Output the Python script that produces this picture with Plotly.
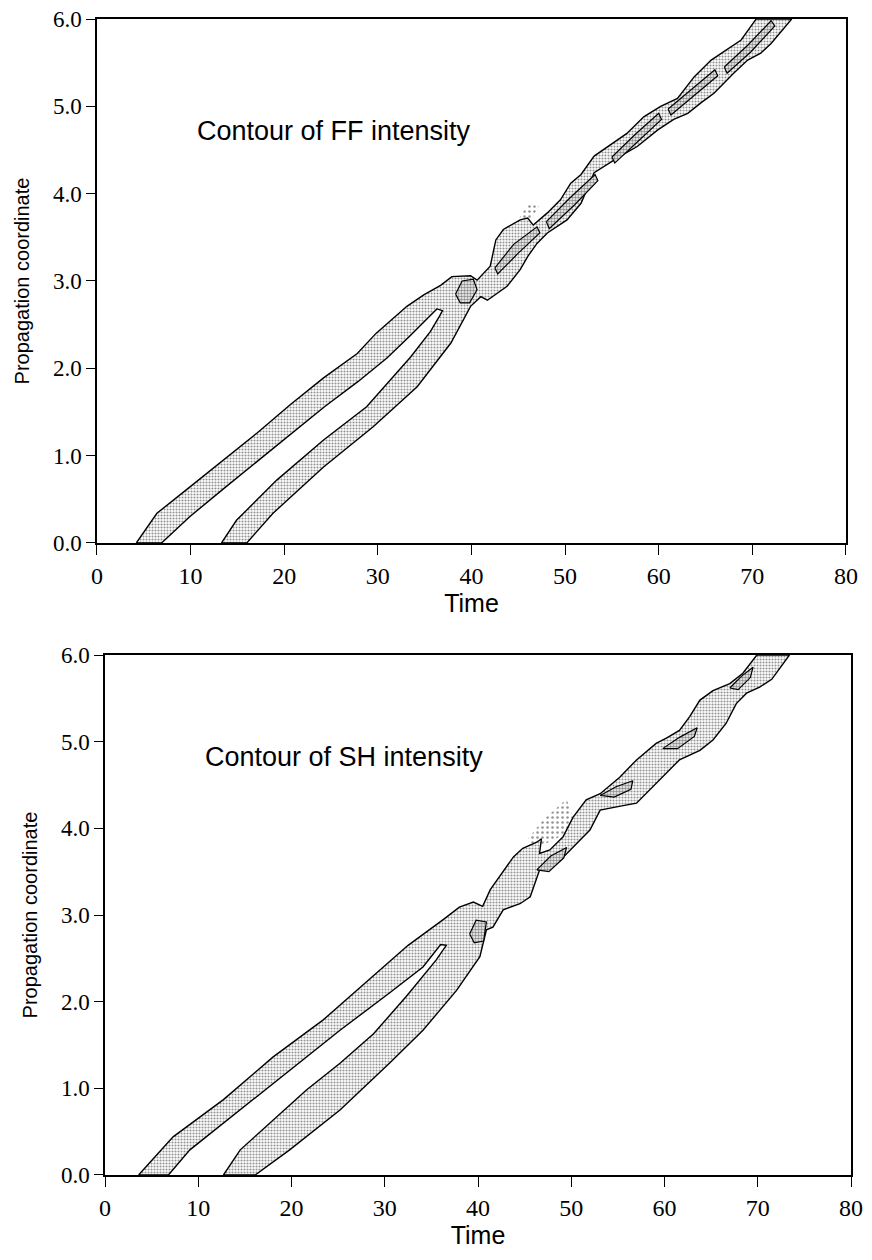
import plotly.graph_objects as go

# ---- FF intensity contour (top panel), edges as (time, z) ----
ff_left_outer_t = [4.2, 6.4, 9.9, 13.5, 17.1, 20.6, 24.2, 27.8, 29.8, 33.1, 34.9, 36.7, 37.9, 39.9]
ff_left_outer_z = [0.0, 0.34, 0.64, 0.95, 1.26, 1.58, 1.89, 2.17, 2.40, 2.71, 2.84, 2.95, 3.05, 3.06]
ff_merge_upper_t = [40.6, 42.0, 42.6, 43.4, 45.2, 46.0, 46.6, 48.1, 49.5, 50.6, 51.7, 53.1, 56.6, 58.4,
                    60.2, 62.0, 63.8, 65.6, 67.3, 68.8, 69.8, 70.4]
ff_merge_upper_z = [3.01, 3.17, 3.47, 3.59, 3.70, 3.72, 3.64, 3.78, 3.93, 4.12, 4.22, 4.43, 4.69, 4.88,
                    5.00, 5.09, 5.34, 5.53, 5.65, 5.76, 5.91, 6.0]
ff_merge_lower_t = [74.2, 73.0, 72.0, 70.9, 69.5, 68.0, 65.9, 64.5, 63.1, 61.6, 59.9, 57.7, 55.9, 53.1,
                    51.7, 50.2, 48.1, 47.0, 46.0, 45.2, 43.8, 41.7, 41.0]
ff_merge_lower_z = [6.0, 5.85, 5.72, 5.61, 5.53, 5.38, 5.15, 5.04, 4.92, 4.85, 4.73, 4.54, 4.43, 4.24,
                    3.89, 3.70, 3.55, 3.43, 3.28, 3.13, 2.94, 2.78, 2.82]
ff_right_outer_t = [39.9, 37.8, 34.2, 29.5, 24.2, 18.8, 16.0]
ff_right_outer_z = [2.71, 2.29, 1.79, 1.33, 0.87, 0.34, 0.0]
ff_right_inner_t = [13.3, 14.9, 19.2, 24.2, 28.8, 33.5, 35.6, 36.6, 36.9]
ff_right_inner_z = [0.0, 0.26, 0.72, 1.18, 1.56, 2.13, 2.42, 2.60, 2.66]
ff_left_inner_t = [36.3, 35.3, 33.5, 31.0, 27.9, 24.3, 20.7, 17.1, 13.5, 9.9, 6.9]
ff_left_inner_z = [2.68, 2.57, 2.38, 2.12, 1.85, 1.56, 1.25, 0.94, 0.62, 0.30, 0.0]

# higher-level contour loops inside the FF band
ff_inner_loops = [
    ([38.3, 39.0, 40.2, 40.6, 39.8, 38.8], [2.85, 3.00, 3.02, 2.90, 2.75, 2.75]),
    ([42.5, 44.5, 47.0, 47.3, 45.0, 42.8], [3.15, 3.42, 3.62, 3.55, 3.32, 3.08]),
    ([48.0, 50.5, 53.2, 53.5, 51.0, 48.3], [3.68, 3.95, 4.22, 4.15, 3.87, 3.60]),
    ([55.0, 57.5, 60.0, 60.3, 57.8, 55.3], [4.42, 4.68, 4.92, 4.85, 4.60, 4.35]),
    ([61.0, 63.5, 66.0, 66.3, 63.8, 61.3], [4.97, 5.20, 5.42, 5.35, 5.12, 4.90]),
    ([67.0, 69.5, 72.0, 72.4, 69.8, 67.3], [5.45, 5.70, 5.98, 5.92, 5.62, 5.38]),
]
ff_sparse_t = [44.8, 46.0, 47.2, 46.4, 45.0]
ff_sparse_z = [3.66, 3.88, 3.86, 3.70, 3.58]

# ---- SH intensity contour (bottom panel) ----
sh_left_outer_t = [3.6, 7.3, 12.7, 18.0, 23.4, 28.8, 32.5, 36.3, 38.0, 39.5]
sh_left_outer_z = [0.0, 0.44, 0.87, 1.36, 1.79, 2.30, 2.65, 2.95, 3.09, 3.15]
sh_merge_upper_t = [40.5, 41.3, 42.3, 43.8, 44.8, 46.3, 46.8, 46.6, 47.7, 49.1, 50.2, 51.6, 53.1, 55.2,
                    57.0, 59.1, 60.2, 61.6, 62.7, 63.8, 65.2, 67.0, 68.4, 69.5, 69.9]
sh_merge_upper_z = [3.10, 3.29, 3.44, 3.67, 3.77, 3.84, 3.88, 3.71, 3.75, 3.90, 4.13, 4.33, 4.40, 4.59,
                    4.79, 4.98, 5.04, 5.13, 5.29, 5.48, 5.59, 5.67, 5.79, 5.94, 6.0]
sh_merge_lower_t = [73.4, 72.5, 71.5, 70.2, 68.8, 67.7, 66.6, 65.2, 63.8, 61.6, 59.8, 58.4, 57.0, 55.0,
                    53.1, 52.0, 50.6, 48.8, 46.6, 45.6, 44.5, 42.7, 41.6]
sh_merge_lower_z = [6.0, 5.87, 5.72, 5.63, 5.56, 5.44, 5.21, 5.02, 4.90, 4.79, 4.59, 4.44, 4.29, 4.25,
                    4.21, 3.98, 3.83, 3.63, 3.52, 3.21, 3.13, 3.06, 2.86]
sh_right_outer_t = [40.9, 40.2, 37.7, 34.1, 30.5, 25.2, 19.8, 16.1]
sh_right_outer_z = [2.83, 2.52, 2.13, 1.67, 1.29, 0.75, 0.29, 0.0]
sh_right_inner_t = [12.7, 14.5, 18.0, 21.6, 25.2, 28.8, 32.3, 35.5, 36.6]
sh_right_inner_z = [0.0, 0.29, 0.63, 0.98, 1.29, 1.63, 2.06, 2.48, 2.65]
sh_left_inner_t = [36.0, 34.1, 30.5, 25.2, 19.8, 14.5, 9.1, 6.8]
sh_left_inner_z = [2.66, 2.40, 2.10, 1.67, 1.21, 0.75, 0.29, 0.0]

sh_inner_loops = [
    ([39.1, 39.8, 40.9, 40.6, 39.6], [2.78, 2.94, 2.92, 2.70, 2.68]),
    ([46.3, 47.8, 49.5, 49.2, 47.6], [3.52, 3.68, 3.78, 3.66, 3.50]),
    ([53.1, 54.8, 56.6, 56.4, 54.6], [4.38, 4.48, 4.55, 4.45, 4.36]),
    ([59.8, 61.6, 63.5, 63.2, 61.4], [4.92, 5.05, 5.16, 5.06, 4.92]),
    ([67.0, 68.3, 69.5, 69.2, 67.9], [5.62, 5.76, 5.86, 5.74, 5.60]),
]
sh_sparse_t = [45.2, 47.0, 49.5, 50.4, 48.2, 46.4]
sh_sparse_z = [3.86, 4.10, 4.34, 4.05, 3.86, 3.80]

x_ticks = [0, 10, 20, 30, 40, 50, 60, 70, 80]
y_ticks = [0.0, 1.0, 2.0, 3.0, 4.0, 5.0, 6.0]


def band(parts):
    t, z = [], []
    for pt, pz in parts:
        t += pt
        z += pz
    return t + t[:1], z + z[:1]


fig = go.Figure()


def add_panel(fig, outline, loops, sparse, xa, ya):
    fig.add_trace(go.Scatter(
        x=sparse[0] + sparse[0][:1], y=sparse[1] + sparse[1][:1], xaxis=xa, yaxis=ya,
        mode="lines", fill="toself", line=dict(width=0), fillcolor="rgba(0,0,0,0)",
        fillpattern=dict(shape=".", fgcolor="#222", bgcolor="white", size=5, solidity=0.2),
        hoverinfo="skip", showlegend=False))
    fig.add_trace(go.Scatter(
        x=outline[0], y=outline[1], xaxis=xa, yaxis=ya,
        mode="lines", fill="toself", line=dict(color="black", width=1.4),
        fillpattern=dict(shape=".", fgcolor="#222", bgcolor="white", size=3, solidity=0.38),
        hoverinfo="skip", showlegend=False))
    for lt, lz in loops:
        fig.add_trace(go.Scatter(
            x=lt + lt[:1], y=lz + lz[:1], xaxis=xa, yaxis=ya,
            mode="lines", fill="toself", line=dict(color="black", width=1.2),
            fillpattern=dict(shape=".", fgcolor="#111", bgcolor="white", size=3, solidity=0.55),
            hoverinfo="skip", showlegend=False))


ff_outline = band([(ff_left_outer_t, ff_left_outer_z), (ff_merge_upper_t, ff_merge_upper_z),
                   (ff_merge_lower_t, ff_merge_lower_z), (ff_right_outer_t, ff_right_outer_z),
                   (ff_right_inner_t, ff_right_inner_z), (ff_left_inner_t, ff_left_inner_z)])
sh_outline = band([(sh_left_outer_t, sh_left_outer_z), (sh_merge_upper_t, sh_merge_upper_z),
                   (sh_merge_lower_t, sh_merge_lower_z), (sh_right_outer_t, sh_right_outer_z),
                   (sh_right_inner_t, sh_right_inner_z), (sh_left_inner_t, sh_left_inner_z)])

add_panel(fig, ff_outline, ff_inner_loops, (ff_sparse_t, ff_sparse_z), "x", "y")
add_panel(fig, sh_outline, sh_inner_loops, (sh_sparse_t, sh_sparse_z), "x2", "y2")

tick_font_x = dict(family="Liberation Serif", size=24, color="black")
tick_font_y = dict(family="Liberation Serif", size=23, color="black")
title_font = dict(family="Liberation Sans", size=20, color="black")

xaxis_common = dict(
    range=[0, 80], tickvals=x_ticks, ticks="outside", ticklen=10, tickcolor="black",
    showline=True, linecolor="black", linewidth=1.5, mirror=True, automargin=False,
    showgrid=False, zeroline=False, tickfont=tick_font_x, ticklabeloverflow="allow",
    title=dict(text="Time", font=dict(family="Liberation Sans", size=25, color="black"), standoff=0),
)
yaxis_common = dict(
    range=[0, 6], tickvals=y_ticks, tickformat=".1f", ticks="outside", ticklen=9, tickcolor="black",
    showline=True, linecolor="black", linewidth=1.5, mirror=True, automargin=False,
    showgrid=False, zeroline=False, tickfont=tick_font_y, ticklabeloverflow="allow",
    title=dict(text="Propagation coordinate", font=title_font, standoff=18),
)

# page body adds an 8 px margin, so the figure is 8 px smaller than the window
fig.update_layout(
    width=864, height=1252, autosize=False,
    margin=dict(l=0, r=0, t=0, b=0),
    paper_bgcolor="white", plot_bgcolor="white",
    xaxis=dict(domain=[0.1030, 0.9699], anchor="y", **xaxis_common),
    yaxis=dict(domain=[0.5727, 0.9912], anchor="x", **yaxis_common),
    xaxis2=dict(domain=[0.1123, 0.9757], anchor="y2", **xaxis_common),
    yaxis2=dict(domain=[0.0679, 0.4832], anchor="x2", **yaxis_common),
    annotations=[
        dict(text="Contour of FF intensity", x=10.5, y=4.72, xref="x", yref="y",
             xanchor="left", yanchor="middle", showarrow=False,
             font=dict(family="Liberation Sans", size=27, color="black")),
        dict(text="Contour of SH intensity", x=10.5, y=4.82, xref="x2", yref="y2",
             xanchor="left", yanchor="middle", showarrow=False,
             font=dict(family="Liberation Sans", size=27, color="black")),
    ],
)

fig.write_html("out.html")
